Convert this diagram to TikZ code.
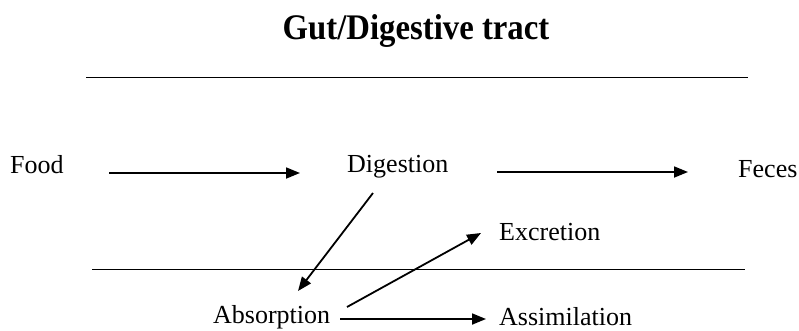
\documentclass[tikz,border=0pt]{standalone}
\usepackage{fontspec}
\setmainfont{Liberation Serif}
\usetikzlibrary{arrows.meta,calc}
\begin{document}
\begin{tikzpicture}[x=1pt,y=-1pt,
  lbl/.style={inner sep=0pt,anchor=base west,font=\fontsize{26}{30}\selectfont},
  arr/.style={line width=1.8pt,-{Triangle[length=14pt,width=11pt]}},
  rule/.style={line width=0.9pt}]
\useasboundingbox (0,0) rectangle (799,330);
\node[inner sep=0pt,anchor=base,font=\fontsize{36}{40}\selectfont\bfseries] (title) at (416,39) {\scalebox{0.91}[1]{Gut/Digestive tract}};
\coordinate (tl) at (86,77);
\coordinate (tr) at (748,77);
\coordinate (bl) at (92,269);
\coordinate (br) at (745,269);
\draw[rule] (tl) -- (tr);
\draw[rule] (bl) -- (br);
\node[lbl] (food) at (10,173) {Food};
\node[lbl] (digestion) at (347,172) {Digestion};
\node[lbl] (feces) at (738,177) {Feces};
\node[lbl] (excretion) at (499,240) {Excretion};
\node[lbl] (absorption) at (213,323) {Absorption};
\node[lbl] (assimilation) at (499,325) {Assimilation};
\draw[arr] ($(food.base west)+(99,0)$) -- ($(digestion.base west)+(-47,1)$);
\draw[arr] ($(digestion.base west)+(150,0)$) -- ($(feces.base west)+(-50,-5)$);
\draw[arr] ($(digestion.base west)+(26,21)$) -- ($(absorption.base west)+(85,-32)$);
\draw[arr] ($(absorption.base west)+(134,-16)$) -- ($(excretion.base west)+(-18,-7)$);
\draw[arr] ($(absorption.base west)+(127,-4)$) -- ($(assimilation.base west)+(-13,-6)$);
\end{tikzpicture}
\end{document}
